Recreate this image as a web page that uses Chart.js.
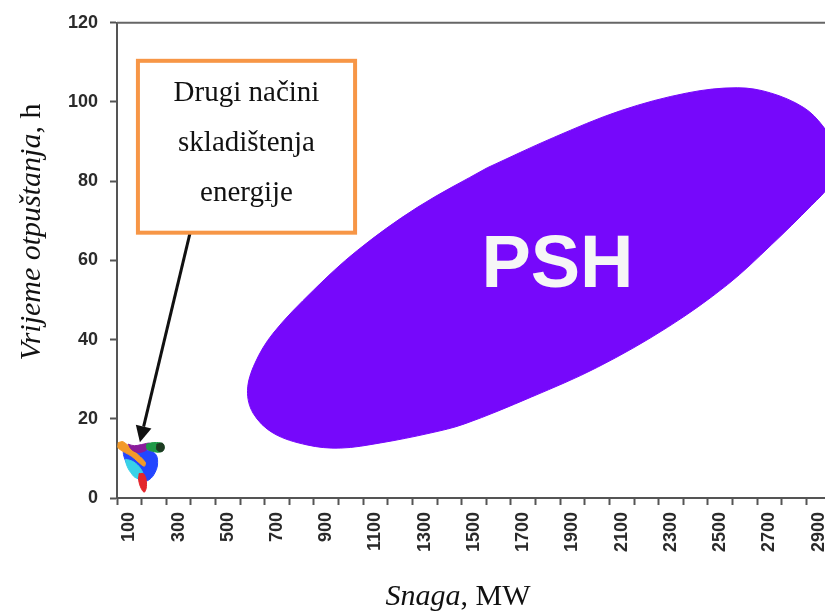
<!DOCTYPE html>
<html>
<head>
<meta charset="utf-8">
<script src="https://cdn.jsdelivr.net/npm/chart.js@4.4.1/dist/chart.umd.min.js"></script>
<style>
  html, body { margin: 0; padding: 0; background: #ffffff; overflow: hidden; }
  #wrap { width: 825px; height: 613px; overflow: hidden; position: relative; }
  canvas { display: block; }
</style>
</head>
<body>
<div id="wrap"><canvas id="c" width="850" height="613"></canvas></div>
<script>
// ---- tick labels ----
const xTickLabels = [100, 300, 500, 700, 900, 1100, 1300, 1500, 1700, 1900, 2100, 2300, 2500, 2700, 2900];
const yTickValues = [0, 20, 40, 60, 80, 100, 120];

// ---- PSH region outline (MW, h) ----
const pshPower = [1554, 1822, 2095, 2367, 2570, 2704, 2839, 2916, 2960, 2973, 2944, 2871, 2709, 2530, 2286, 2001, 1733, 1461, 1322, 1119, 957, 822, 684, 603, 580, 610, 684, 847, 1026, 1270, 1554];
const pshHours = [83.4, 91.0, 97.8, 102.3, 103.6, 102.3, 98.6, 94.0, 89.0, 83.9, 78.9, 73.9, 64.0, 53.9, 43.1, 33.0, 25.5, 18.7, 16.4, 13.9, 12.6, 13.4, 16.4, 21.4, 27.2, 34.0, 41.6, 52.4, 62.5, 73.4, 83.4];

// ---- other storage technologies (small regions near origin) ----
const redPower    = [140, 160, 170, 162, 150, 138, 140];
const redHours    = [6.2, 6.0, 3.5, 1.5, 2.2, 4.5, 6.2];
const darkPower   = [212, 235, 242, 232, 212, 212];
const darkHours   = [13.6, 13.8, 12.6, 11.7, 12.2, 13.6];
const greenPower  = [170, 200, 235, 240, 225, 195, 172, 170];
const greenHours  = [13.6, 14.0, 13.7, 12.5, 11.6, 11.8, 12.4, 13.6];
const purplePower = [95, 120, 150, 185, 175, 140, 110, 95];
const purpleHours = [13.6, 13.2, 13.5, 13.8, 12.4, 11.5, 12.2, 13.6];
const orangePower = [55, 75, 120, 165, 160, 110, 55, 55];
const orangeHours = [14.0, 14.2, 11.8, 9.0, 8.0, 10.5, 12.6, 14.0];
const cyanPower   = [85, 115, 145, 155, 130, 105, 88, 85];
const cyanHours   = [9.8, 9.2, 7.5, 5.6, 5.0, 6.5, 8.5, 9.8];
const bluePower   = [75, 120, 165, 205, 215, 205, 180, 150, 125, 100, 78, 75];
const blueHours   = [12.5, 12.0, 12.2, 11.2, 9.0, 6.5, 4.6, 4.2, 5.5, 7.5, 10.5, 12.5];

// ---- annotation (data coordinates) ----
const noteLines = ['Drugi načini', 'skladištenja', 'energije'];
const noteBoxPower = [135, 1017];
const noteBoxHours = [110.4, 67.0];
const noteLineHours = [102.3, 89.5, 76.9];
const arrowPower = [347, 143];
const arrowHours = [67.0, 14.1];
const pshLabel = 'PSH';
const pshLabelPos = [1839, 53.4];

function pts(px, hy) { return px.map((v, i) => ({ x: v, y: hy[i] })); }
function shape(label, px, hy, color, tension) {
  return {
    label, data: pts(px, hy), showLine: true, fill: 'shape',
    backgroundColor: color, borderColor: color, borderWidth: 1,
    pointRadius: 0, tension: tension
  };
}

const labelSet = new Set(xTickLabels);
const SANS = "'Liberation Sans', Arial, sans-serif";
const SERIF = "'Liberation Serif', 'Times New Roman', serif";

const decor = {
  id: 'decor',
  afterDatasetsDraw(chart) {
    const { ctx, chartArea, scales } = chart;
    const xs = scales.x, ys = scales.y;
    ctx.save();
    // top frame
    ctx.strokeStyle = '#666';
    ctx.lineWidth = 2;
    ctx.beginPath();
    ctx.moveTo(chartArea.left, chartArea.top);
    ctx.lineTo(chartArea.right, chartArea.top);
    ctx.stroke();

    // PSH label
    ctx.fillStyle = '#f6f6f6';
    ctx.font = 'bold 74px ' + SANS;
    ctx.textAlign = 'center';
    ctx.textBaseline = 'alphabetic';
    ctx.fillText(pshLabel, xs.getPixelForValue(pshLabelPos[0]), ys.getPixelForValue(pshLabelPos[1]));

    // arrow
    const ax1 = xs.getPixelForValue(arrowPower[0]), ay1 = ys.getPixelForValue(arrowHours[0]);
    const ax2 = xs.getPixelForValue(arrowPower[1]), ay2 = ys.getPixelForValue(arrowHours[1]);
    const ang = Math.atan2(ay2 - ay1, ax2 - ax1);
    const headLen = 16, headW = 8;
    const bx = ax2 - headLen * Math.cos(ang), by = ay2 - headLen * Math.sin(ang);
    ctx.strokeStyle = '#111';
    ctx.lineWidth = 3;
    ctx.beginPath();
    ctx.moveTo(ax1, ay1);
    ctx.lineTo(bx, by);
    ctx.stroke();
    ctx.fillStyle = '#111';
    ctx.beginPath();
    ctx.moveTo(ax2, ay2);
    ctx.lineTo(bx + headW * Math.sin(ang), by - headW * Math.cos(ang));
    ctx.lineTo(bx - headW * Math.sin(ang), by + headW * Math.cos(ang));
    ctx.closePath();
    ctx.fill();

    // note box
    const l = xs.getPixelForValue(noteBoxPower[0]), r = xs.getPixelForValue(noteBoxPower[1]);
    const t = ys.getPixelForValue(noteBoxHours[0]), b = ys.getPixelForValue(noteBoxHours[1]);
    ctx.fillStyle = '#ffffff';
    ctx.fillRect(l, t, r - l, b - t);
    ctx.strokeStyle = '#f79646';
    ctx.lineWidth = 4;
    ctx.strokeRect(l, t, r - l, b - t);
    ctx.fillStyle = '#111';
    ctx.font = '29px ' + SERIF;
    ctx.textAlign = 'center';
    ctx.textBaseline = 'middle';
    const cx = (l + r) / 2;
    noteLines.forEach((s, i) => ctx.fillText(s, cx, ys.getPixelForValue(noteLineHours[i])));
    ctx.restore();
  },
  afterDraw(chart) {
    const { ctx } = chart;
    ctx.save();
    ctx.fillStyle = '#111';
    ctx.textBaseline = 'alphabetic';
    // x title (mixed italic/normal)
    ctx.font = 'italic 30px ' + SERIF;
    const w1 = ctx.measureText('Snaga').width;
    ctx.font = '30px ' + SERIF;
    const w2 = ctx.measureText(', MW').width;
    const sx = 458 - (w1 + w2) / 2;
    ctx.textAlign = 'left';
    ctx.font = 'italic 30px ' + SERIF;
    ctx.fillText('Snaga', sx, 605);
    ctx.font = '30px ' + SERIF;
    ctx.fillText(', MW', sx + w1, 605);

    // y title
    ctx.translate(40, 232);
    ctx.rotate(-Math.PI / 2);
    ctx.font = 'italic 30px ' + SERIF;
    const v1 = ctx.measureText('Vrijeme otpuštanja').width;
    ctx.font = '30px ' + SERIF;
    const v2 = ctx.measureText(', h').width;
    const vx = -(v1 + v2) / 2;
    ctx.font = 'italic 30px ' + SERIF;
    ctx.fillText('Vrijeme otpuštanja', vx, 0);
    ctx.font = '30px ' + SERIF;
    ctx.fillText(', h', vx + v1, 0);
    ctx.restore();
  }
};

new Chart(document.getElementById('c'), {
  type: 'scatter',
  data: {
    datasets: [
      shape('red', redPower, redHours, '#e3262d', 0.4),
      shape('dark', darkPower, darkHours, '#1d3b22', 0.4),
      shape('green', greenPower, greenHours, '#1f9a48', 0.4),
      shape('purple', purplePower, purpleHours, '#8a1c9c', 0.4),
      shape('orange', orangePower, orangeHours, '#f39a2a', 0.3),
      shape('cyan', cyanPower, cyanHours, '#38d2e8', 0.4),
      shape('blue', bluePower, blueHours, '#2346ff', 0.4),
      shape('PSH', pshPower, pshHours, '#7608fb', 0.35)
    ]
  },
  options: {
    responsive: false,
    animation: false,
    devicePixelRatio: 1,
    layout: { padding: { top: 22, right: 19, left: 0, bottom: 0 } },
    plugins: { legend: { display: false }, tooltip: { enabled: false } },
    scales: {
      x: {
        type: 'linear',
        min: 50, max: 2950,
        bounds: 'data',
        afterBuildTicks(scale) {
          const vals = new Set();
          xTickLabels.forEach(v => { vals.add(v - 50); vals.add(v); vals.add(v + 50); });
          scale.ticks = Array.from(vals).sort((a, b) => a - b).map(v => ({ value: v }));
        },
        afterFit(scale) { scale.height = 115; scale.paddingLeft = 0; scale.paddingRight = 0; },
        ticks: {
          autoSkip: false,
          minRotation: 90, maxRotation: 90,
          padding: 7,
          color: '#2a2a2a',
          font: { family: SANS, size: 18, weight: 'bold' },
          callback: (v) => labelSet.has(v) ? String(v) : ''
        },
        grid: {
          drawOnChartArea: false,
          tickLength: 7,
          tickWidth: 2,
          tickColor: (c) => (c.tick && !labelSet.has(c.tick.value)) ? '#555' : 'rgba(0,0,0,0)'
        },
        border: { color: '#555', width: 2 }
      },
      y: {
        type: 'linear',
        min: 0, max: 120,
        afterBuildTicks(scale) { scale.ticks = yTickValues.map(v => ({ value: v })); },
        afterFit(scale) { scale.width = 117; },
        ticks: {
          padding: 12,
          color: '#2a2a2a',
          font: { family: SANS, size: 18, weight: 'bold' }
        },
        grid: { drawOnChartArea: false, tickLength: 7, tickWidth: 2, tickColor: '#555' },
        border: { color: '#555', width: 2 }
      }
    }
  },
  plugins: [decor]
});
</script>
</body>
</html>
